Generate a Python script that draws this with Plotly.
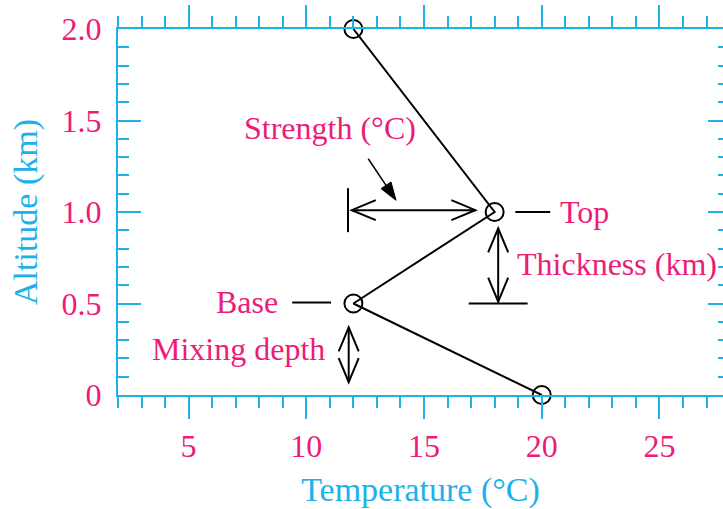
import math
import plotly.graph_objects as go

# Temperature profile through an inversion layer
temperature = [12, 18, 12, 20]          # deg C
altitude = [2.0, 1.0, 0.5, 0.0]         # km

x_tick_vals = [5, 10, 15, 20, 25]
y_tick_vals = [0, 0.5, 1.0, 1.5, 2.0]
y_tick_text = ["0", "0.5", "1.0", "1.5", "2.0"]

X_RANGE = [2, 27.7]
Y_RANGE = [0, 2]
W, H = 723, 509
MARGIN = dict(l=118, r=0, t=29, b=114)

BLUE = "#1DB1EC"
PINK = "#EC1C78"
FONT = "Liberation Serif"

# pixels per data unit, used to size arrowheads in screen space
PX_X = (W - MARGIN["l"] - MARGIN["r"]) / (X_RANGE[1] - X_RANGE[0])
PX_Y = (H - MARGIN["t"] - MARGIN["b"]) / (Y_RANGE[1] - Y_RANGE[0])


def offset(x, y, ox, oy):
    """Shift a data point by (ox, oy) screen pixels (oy grows downward)."""
    return x + ox / PX_X, y - oy / PX_Y


def chevron(tx, ty, dx, dy, length=24, half=10):
    """Open V arrowhead with its tip at (tx, ty), pointing along screen dir (dx, dy)."""
    n = math.hypot(dx, dy)
    ux, uy = dx / n, dy / n
    bx, by = -ux * length, -uy * length
    a = offset(tx, ty, bx - uy * half, by + ux * half)
    b = offset(tx, ty, bx + uy * half, by - ux * half)
    return f"M{a[0]},{a[1]} L{tx},{ty} L{b[0]},{b[1]}"


def line_shape(x0, y0, x1, y1, width=2):
    return dict(type="line", xref="x", yref="y", x0=x0, y0=y0, x1=x1, y1=y1,
                line=dict(color="black", width=width))


def path_shape(path, width=2, fill=None):
    d = dict(type="path", xref="x", yref="y", path=path,
             line=dict(color="black", width=width))
    if fill:
        d["fillcolor"] = fill
    return d


def double_arrow(x0, y0, x1, y1):
    dx = (x1 - x0) * PX_X
    dy = -(y1 - y0) * PX_Y
    return [line_shape(x0, y0, x1, y1),
            path_shape(chevron(x1, y1, dx, dy)),
            path_shape(chevron(x0, y0, -dx, -dy))]


shapes = []
# Strength: reference bar and horizontal double arrow
shapes.append(line_shape(11.77, 0.89, 11.77, 1.13))
shapes += double_arrow(11.93, 1.01, 17.18, 1.01)
# Thickness: double arrow and bottom bar
shapes += double_arrow(18.15, 0.91, 18.15, 0.51)
shapes.append(line_shape(16.9, 0.5, 19.4, 0.5))
# Mixing depth double arrow
shapes += double_arrow(11.8, 0.37, 11.8, 0.07)
# Leader lines for Top and Base
shapes.append(line_shape(18.88, 1.0, 20.36, 1.0))
shapes.append(line_shape(9.4, 0.505, 11.05, 0.505))

# Pointer from the Strength label with a filled head
p0 = (12.63, 1.291)
p1 = (13.81, 1.064)
sdx = (p1[0] - p0[0]) * PX_X
sdy = -(p1[1] - p0[1]) * PX_Y
sn = math.hypot(sdx, sdy)
ux, uy = sdx / sn, sdy / sn
head_len, head_half = 18, 6
base = offset(p1[0], p1[1], -ux * head_len, -uy * head_len)
shapes.append(line_shape(p0[0], p0[1], base[0], base[1], width=1.5))
c1 = offset(p1[0], p1[1], -ux * head_len - uy * head_half, -uy * head_len + ux * head_half)
c2 = offset(p1[0], p1[1], -ux * head_len + uy * head_half, -uy * head_len - ux * head_half)
shapes.append(path_shape(f"M{c1[0]},{c1[1]} L{p1[0]},{p1[1]} L{c2[0]},{c2[1]} Z",
                         width=1, fill="black"))

label_font = dict(family=FONT, size=32, color=PINK)
annotations = [
    dict(text="Strength (°C)", x=11.02, y=1.46, xanchor="center", yanchor="middle"),
    dict(text="Top", x=20.69, y=1.0, xanchor="left", yanchor="middle"),
    dict(text="Thickness (km)", x=18.86, y=0.715, xanchor="left", yanchor="middle"),
    dict(text="Base", x=8.88, y=0.51, xanchor="right", yanchor="middle"),
    dict(text="Mixing depth", x=10.88, y=0.251, xanchor="right", yanchor="middle"),
]
for a in annotations:
    a.update(xref="x", yref="y", showarrow=False, font=label_font)

fig = go.Figure()
fig.add_trace(go.Scatter(
    x=temperature, y=altitude, mode="lines+markers",
    line=dict(color="black", width=2),
    marker=dict(symbol="circle-open", size=18, color="black", line=dict(width=2)),
    hoverinfo="skip", showlegend=False, cliponaxis=False,
))
# carrier trace for the right-hand tick axis
fig.add_trace(go.Scatter(x=[X_RANGE[0]], y=[Y_RANGE[0]], yaxis="y2", mode="markers",
                         marker=dict(opacity=0), hoverinfo="skip", showlegend=False))

tick_font = dict(family=FONT, size=32, color=PINK)
title_font = dict(family=FONT, size=34, color=BLUE)

fig.update_layout(
    width=W, height=H, margin=MARGIN,
    paper_bgcolor="white", plot_bgcolor="white",
    shapes=shapes, annotations=annotations,
    xaxis=dict(
        range=X_RANGE, showgrid=False, zeroline=False,
        showline=True, linecolor=BLUE, linewidth=2, mirror="ticks",
        ticks="outside", ticklen=22, tickwidth=2, tickcolor=BLUE,
        tickmode="array", tickvals=x_tick_vals, tickfont=tick_font,
        minor=dict(tickmode="linear", tick0=0, dtick=1, ticks="outside",
                   ticklen=11, tickwidth=2, tickcolor=BLUE),
        title=dict(text="Temperature (°C)", font=title_font, standoff=14),
    ),
    yaxis=dict(
        range=Y_RANGE, showgrid=False, zeroline=False,
        showline=True, linecolor=BLUE, linewidth=2,
        ticks="inside", ticklen=23, tickwidth=2, tickcolor=BLUE,
        tickmode="array", tickvals=y_tick_vals, ticktext=y_tick_text,
        tickfont=tick_font, ticklabelstandoff=8,
        minor=dict(tickmode="linear", tick0=0, dtick=0.1, ticks="inside",
                   ticklen=11, tickwidth=2, tickcolor=BLUE),
        title=dict(text="Altitude (km)", font=title_font, standoff=14),
    ),
    yaxis2=dict(
        range=Y_RANGE, overlaying="y", side="right", showgrid=False, zeroline=False,
        showline=False, showticklabels=False,
        ticks="inside", ticklen=15, tickwidth=2, tickcolor=BLUE,
        tickmode="array", tickvals=y_tick_vals,
        minor=dict(tickmode="linear", tick0=0, dtick=0.1, ticks="inside",
                   ticklen=5, tickwidth=2, tickcolor=BLUE),
    ),
)

fig.write_html("out.html")
